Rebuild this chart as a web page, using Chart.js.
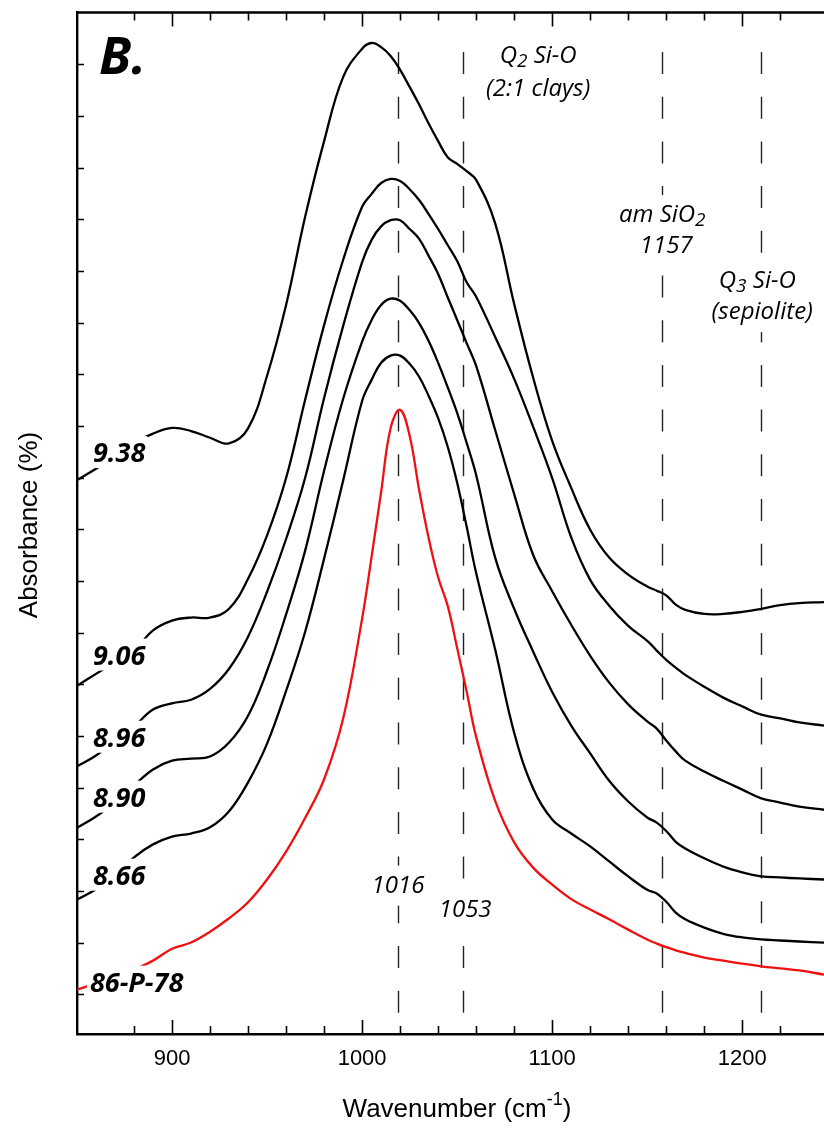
<!DOCTYPE html>
<html>
<head>
<meta charset="utf-8">
<script src="https://cdn.jsdelivr.net/npm/chart.js@4.4.1/dist/chart.umd.min.js"></script>
<style>
  html, body { margin: 0; padding: 0; background: #fff; }
  canvas { display: block; }
</style>
</head>
<body>
<canvas id="ftirChart" width="824" height="1129"></canvas>
<script>
// wavenumber grid (cm-1) shared by all spectra
const wavenumbers = [850, 860, 870, 880, 890, 900, 910, 920, 930, 940, 950, 960, 970, 980, 990,
  1000, 1005, 1010, 1015, 1020, 1025, 1030, 1035, 1040, 1045, 1050, 1055, 1060, 1070, 1080,
  1090, 1100, 1110, 1120, 1130, 1140, 1150, 1155, 1160, 1165, 1170, 1180, 1190, 1200, 1210,
  1220, 1230, 1243];

// stacked absorbance (arbitrary offset units)
const spec938 = [9.95, 10.17, 10.40, 10.67, 10.85, 10.96, 10.90, 10.77, 10.66, 10.95, 11.97, 13.34,
  15.04, 16.51, 17.75, 18.30, 18.41, 18.33, 18.16, 17.89, 17.56, 17.22, 16.85, 16.51, 16.20,
  16.07, 15.93, 15.76, 14.92, 13.36, 11.93, 10.71, 9.80, 8.99, 8.45, 8.12, 7.89, 7.81, 7.72,
  7.54, 7.44, 7.36, 7.36, 7.40, 7.46, 7.53, 7.57, 7.59];
const spec906 = [5.97, 6.20, 6.43, 6.65, 7.04, 7.23, 7.29, 7.29, 7.46, 8.04, 8.88, 9.99, 11.50,
  12.95, 14.21, 15.24, 15.49, 15.70, 15.78, 15.74, 15.58, 15.37, 15.10, 14.81, 14.50, 14.19,
  13.78, 13.50, 12.72, 11.91, 10.98, 9.99, 8.84, 8.02, 7.52, 7.13, 6.84, 6.65, 6.47, 6.32,
  6.18, 5.95, 5.74, 5.57, 5.41, 5.34, 5.26, 5.20];
const spec896 = [4.41, 4.62, 4.91, 5.18, 5.51, 5.63, 5.70, 5.91, 6.30, 6.92, 7.79, 8.81, 9.99,
  11.54, 12.93, 14.17, 14.60, 14.86, 14.98, 14.98, 14.81, 14.62, 14.29, 13.94, 13.49, 13.05,
  12.60, 12.16, 10.92, 9.68, 8.50, 7.80, 7.15, 6.55, 6.03, 5.61, 5.28, 5.14, 4.91, 4.70, 4.52,
  4.31, 4.13, 3.96, 3.79, 3.71, 3.63, 3.57];
const spec890 = [3.22, 3.44, 3.71, 4.04, 4.35, 4.52, 4.56, 4.60, 4.87, 5.39, 6.26, 7.35, 8.58,
  10.13, 11.52, 12.63, 13.05, 13.34, 13.46, 13.42, 13.24, 12.99, 12.64, 12.22, 11.75, 11.25,
  10.67, 10.05, 8.45, 7.46, 6.63, 5.85, 5.20, 4.66, 4.13, 3.73, 3.42, 3.32, 3.16, 2.95, 2.82,
  2.63, 2.47, 2.36, 2.28, 2.26, 2.24, 2.22];
const spec866 = [1.83, 2.03, 2.30, 2.65, 2.90, 3.05, 3.11, 3.23, 3.54, 4.10, 4.85, 5.87, 7.01,
  8.43, 9.94, 11.48, 11.89, 12.22, 12.36, 12.36, 12.20, 11.95, 11.58, 11.15, 10.60, 9.90, 9.05,
  8.15, 6.67, 5.06, 3.98, 3.38, 3.11, 2.86, 2.57, 2.28, 2.02, 1.95, 1.79, 1.58, 1.45, 1.29,
  1.17, 1.10, 1.06, 1.04, 1.02, 1.00];
const spec86P78 = [0.09, 0.21, 0.34, 0.48, 0.65, 0.88, 1.00, 1.21, 1.47, 1.78, 2.22, 2.76, 3.41,
  4.16, 5.33, 7.27, 8.47, 9.72, 10.96, 11.31, 10.81, 9.76, 8.83, 8.07, 7.52, 6.70, 5.86, 4.98,
  3.74, 2.94, 2.45, 2.12, 1.84, 1.64, 1.45, 1.25, 1.06, 0.98, 0.91, 0.85, 0.80, 0.71, 0.65,
  0.59, 0.54, 0.50, 0.46, 0.38];

const seriesNames = ["9.38", "9.06", "8.96", "8.90", "8.66", "86-P-78"];
const seriesValues = [spec938, spec906, spec896, spec890, spec866, spec86P78];
const seriesColors = ["#000", "#000", "#000", "#000", "#000", "#ee1111"];

// band positions (dashed guides) and x tick labels
const bandPositions = [1019, 1053, 1158, 1210];
const xTickLabels = [900, 1000, 1100, 1200];

// where the sample names sit (wavenumber, absorbance)
const seriesLabelAt = [[858.4, 10.30], [858.4, 6.38], [858.4, 4.79], [858.4, 3.63], [858.4, 2.12], [856.8, 0.05]];

// band notes; ["2", "sub"] marks a subscript
const bandNotes = [
  { parts: [["Q"], ["2", "sub"], [" Si-O"]], at: [1092.6, 18.16] },
  { parts: [["(2:1 clays)"]], at: [1092.6, 17.52] },
  { parts: [["am SiO"], ["2", "sub"]], at: [1157.9, 15.08] },
  { parts: [["1157"]], at: [1160, 14.48] },
  { parts: [["Q"], ["3", "sub"], [" Si-O"]], at: [1207.9, 13.80] },
  { parts: [["(sepiolite)"]], at: [1210.5, 13.20] },
  { parts: [["1016"]], at: [1018.9, 2.10] },
  { parts: [["1053"]], at: [1054.2, 1.62] },
];

// draw a line of text with sub/superscripts, centred on (cx, cy)
function drawRich(ctx, parts, cx, cy, size, style, family, box, smallScale) {
  const fontFor = (kind) => `${style} ${kind ? Math.round(size * smallScale) : size}px ${family}`;
  let w = 0;
  parts.forEach(([t, kind]) => {
    ctx.font = fontFor(kind);
    w += ctx.measureText(t).width;
  });
  if (box) {
    ctx.fillStyle = "#fff";
    ctx.fillRect(cx - w / 2 - 5, cy - size / 2 - 8, w + 10, size + 16);
  }
  ctx.fillStyle = "#000";
  ctx.textAlign = "left";
  ctx.textBaseline = "middle";
  let px = cx - w / 2;
  parts.forEach(([t, kind]) => {
    ctx.font = fontFor(kind);
    let dy = 0;
    if (kind === "sub") dy = size * 0.24;
    if (kind === "sup") dy = -size * 0.38;
    ctx.fillText(t, px, cy + dy);
    px += ctx.measureText(t).width;
  });
}

const figurePlugin = {
  id: "figure",
  beforeDatasetsDraw(chart) {
    const { ctx, chartArea: a, scales: { x } } = chart;
    ctx.save();
    ctx.strokeStyle = "#222";
    ctx.lineWidth = 1.4;
    ctx.setLineDash([22, 22.7]);
    bandPositions.forEach((b) => {
      const px = Math.round(x.getPixelForValue(b)) + 0.5;
      ctx.beginPath();
      ctx.moveTo(px, a.top + 39.5);
      ctx.lineTo(px, a.bottom - 17);
      ctx.stroke();
    });
    ctx.restore();
  },
  afterDatasetsDraw(chart) {
    const { ctx, scales: { x, y } } = chart;
    ctx.save();
    // sample names, masking the curve behind them
    ctx.font = 'italic bold 27px "Open Sans"';
    ctx.textAlign = "left";
    ctx.textBaseline = "alphabetic";
    seriesNames.forEach((name, i) => {
      const px = x.getPixelForValue(seriesLabelAt[i][0]);
      const py = y.getPixelForValue(seriesLabelAt[i][1]);
      const w = ctx.measureText(name).width;
      ctx.fillStyle = "#fff";
      ctx.fillRect(px - 3, py - 26, w + 5, 32);
      ctx.fillStyle = "#000";
      ctx.fillText(name, px, py);
    });
    // band notes
    bandNotes.forEach((n) => {
      drawRich(ctx, n.parts, x.getPixelForValue(n.at[0]), y.getPixelForValue(n.at[1]),
        24, "italic", '"Open Sans"', true, 0.8);
    });
    ctx.restore();
  },
  afterDraw(chart) {
    const { ctx, chartArea: a, scales: { x, y } } = chart;
    ctx.save();
    ctx.strokeStyle = "#000";
    // top frame line
    ctx.lineWidth = 2.4;
    ctx.beginPath();
    ctx.moveTo(a.left - 1, a.top);
    ctx.lineTo(a.right, a.top);
    ctx.stroke();
    // inward ticks
    ctx.lineWidth = 1.6;
    ctx.beginPath();
    x.ticks.forEach((t) => {
      if (t.value % 20 !== 0) return;
      const len = t.value % 100 === 0 ? 14 : 8;
      const px = Math.round(x.getPixelForValue(t.value)) + 0.5;
      ctx.moveTo(px, a.bottom);
      ctx.lineTo(px, a.bottom - len);
      ctx.moveTo(px, a.top);
      ctx.lineTo(px, a.top + len);
    });
    y.ticks.forEach((t) => {
      if (t.value >= y.max || t.value <= y.min) return;
      const py = Math.round(y.getPixelForValue(t.value)) + 0.5;
      ctx.moveTo(a.left, py);
      ctx.lineTo(a.left + 7, py);
    });
    ctx.stroke();

    // panel letter
    ctx.fillStyle = "#000";
    ctx.font = 'italic bold 52px "Open Sans"';
    ctx.textAlign = "left";
    ctx.textBaseline = "alphabetic";
    ctx.fillText("B.", a.left + 22, a.top + 61);

    // axis titles
    drawRich(ctx, [["Wavenumber (cm"], ["-1", "sup"], [")"]], 457, 1110, 26, "normal", '"Liberation Sans"', false, 0.68);
    ctx.translate(30, 525);
    ctx.rotate(-Math.PI / 2);
    ctx.font = '26px "Liberation Sans"';
    ctx.textAlign = "center";
    ctx.textBaseline = "middle";
    ctx.fillText("Absorbance (%)", 0, 0);
    ctx.restore();
  },
};

const datasets = seriesValues.map((vals, i) => ({
  label: seriesNames[i],
  data: wavenumbers.map((w, j) => ({ x: w, y: vals[j] })),
  borderColor: seriesColors[i],
  borderWidth: 2.3,
  pointRadius: 0,
  showLine: true,
  fill: false,
  tension: 0.4,
}));

new Chart(document.getElementById("ftirChart").getContext("2d"), {
  type: "scatter",
  data: { datasets: datasets },
  options: {
    responsive: false,
    animation: false,
    layout: { padding: { top: 12.5, right: 0, bottom: 0, left: 0 } },
    scales: {
      x: {
        type: "linear",
        min: 850,
        max: 1243,
        afterFit: (s) => {
          s.height = 95;
          s.paddingLeft = 0;
          s.paddingRight = 0;
        },
        grid: { display: false, drawTicks: false },
        border: { display: true, color: "#000", width: 2.4 },
        ticks: {
          stepSize: 20,
          autoSkip: false,
          maxRotation: 0,
          padding: 12,
          color: "#000",
          font: { family: "Liberation Sans", size: 22 },
          callback: (v) => (xTickLabels.includes(v) ? String(v) : ""),
        },
      },
      y: {
        min: -0.77,
        max: 19,
        afterFit: (s) => {
          s.width = 77;
          s.paddingTop = 0;
          s.paddingBottom = 0;
        },
        grid: { display: false, drawTicks: false },
        border: { display: true, color: "#000", width: 2.4 },
        ticks: { display: false, stepSize: 1 },
      },
    },
    plugins: {
      legend: { display: false },
      tooltip: { enabled: false },
    },
  },
  plugins: [figurePlugin],
});
</script>
</body>
</html>
